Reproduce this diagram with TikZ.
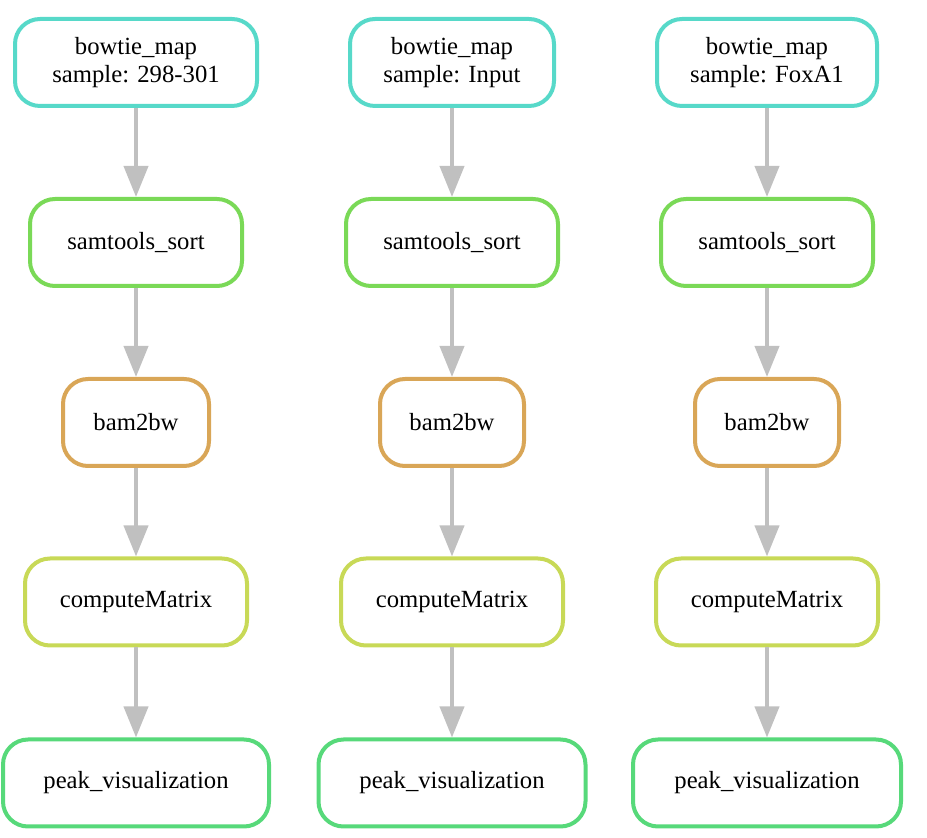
\documentclass[tikz,border=0pt]{standalone}
\usepackage{fontspec}
\setmainfont{Liberation Serif}
\newfontfamily\nodefont{Liberation Serif}
\usetikzlibrary{arrows.meta}
\definecolor{cbow}{HTML}{57D9C9}
\definecolor{csam}{HTML}{7AD957}
\definecolor{cbam}{HTML}{D9A657}
\definecolor{ccm}{HTML}{C8D957}
\definecolor{cpeak}{HTML}{57D97A}
\definecolor{cedge}{HTML}{C0C0C0}
\tikzset{
  box/.style={draw=#1, line width=2pt, rounded corners=12.5pt, fill=white,
    minimum height=43.5pt, align=center, inner sep=0pt,
    font=\nodefont\fontsize{12.35}{14.3}\selectfont},
  edge/.style={draw=cedge, line width=2pt, -{Triangle[length=15.5pt,width=12pt]}}
}
\begin{document}
\begin{tikzpicture}[x=0.5pt,y=-0.5pt]
\useasboundingbox (0,0) rectangle (927,838);
% column 1
\node[box=cbow, minimum width=121pt] (b1) at (136,62.5) {bowtie\_map\\sample: 298-301};
\node[box=csam, minimum width=106pt] (s1) at (136,242.5) {samtools\_sort};
\node[box=cbam, minimum width=73pt] (w1) at (136,422.5) {bam2bw};
\node[box=ccm, minimum width=111pt] (c1) at (136,602) {computeMatrix};
\node[box=cpeak, minimum width=133pt] (p1) at (136,783) {peak\_visualization};
% column 2
\node[box=cbow, minimum width=102pt] (b2) at (452,62.5) {bowtie\_map\\sample: Input};
\node[box=csam, minimum width=106pt] (s2) at (452,242.5) {samtools\_sort};
\node[box=cbam, minimum width=72pt] (w2) at (452,422.5) {bam2bw};
\node[box=ccm, minimum width=111pt] (c2) at (452,602) {computeMatrix};
\node[box=cpeak, minimum width=133.5pt] (p2) at (452,783) {peak\_visualization};
% column 3
\node[box=cbow, minimum width=110pt] (b3) at (767,62.5) {bowtie\_map\\sample: FoxA1};
\node[box=csam, minimum width=106pt] (s3) at (767,242.5) {samtools\_sort};
\node[box=cbam, minimum width=72pt] (w3) at (767,422.5) {bam2bw};
\node[box=ccm, minimum width=111pt] (c3) at (767,602) {computeMatrix};
\node[box=cpeak, minimum width=134pt] (p3) at (767,783) {peak\_visualization};
% edges
\foreach \i in {1,2,3}{
  \draw[edge] (b\i) -- (s\i);
  \draw[edge] (s\i) -- (w\i);
  \draw[edge] (w\i) -- (c\i);
  \draw[edge] (c\i) -- (p\i);
}
\end{tikzpicture}
\end{document}
